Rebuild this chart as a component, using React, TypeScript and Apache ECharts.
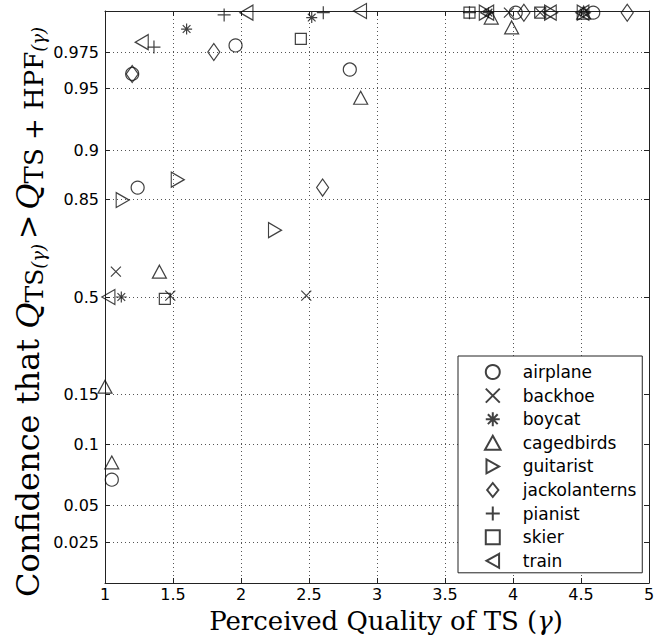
import React, { useEffect, useRef } from "react";
import * as echarts from "echarts";

// ---- data (x = perceived quality, p = confidence) ----
const seriesNames = ["airplane", "backhoe", "boycat", "cagedbirds", "guitarist", "jackolanterns", "pianist", "skier", "train"];

const airplaneX = [1.05, 1.2, 1.24, 1.96, 2.8, 4.02, 4.59];
const airplaneP = [0.071, 0.96, 0.862, 0.979, 0.963, 0.999, 0.999];
const backhoeX = [1.08, 1.48, 2.48, 3.97, 4.2];
const backhoeP = [0.591, 0.505, 0.505, 0.999, 0.999];
const boycatX = [1.12, 1.6, 2.52, 3.82, 4.52];
const boycatP = [0.5, 0.989, 0.996, 0.999, 0.999];
const cagedbirdsX = [1.0, 1.05, 1.4, 2.88, 3.84, 3.99, 4.52];
const cagedbirdsP = [0.178, 0.085, 0.591, 0.9425, 0.996, 0.99, 0.999];
const guitaristX = [1.13, 1.535, 2.25, 3.8, 4.28, 4.52];
const guitaristP = [0.848, 0.87, 0.74, 0.999, 0.999, 0.999];
const jackolanternsX = [1.2, 1.8, 2.6, 4.08, 4.84];
const jackolanternsP = [0.96, 0.975, 0.862, 0.999, 0.999];
const pianistX = [1.36, 1.876, 2.605, 3.68];
const pianistP = [0.978, 0.9976, 0.999, 0.999];
const skierX = [1.44, 2.44, 3.68, 4.2];
const skierP = [0.493, 0.983, 0.999, 0.999];
const trainX = [1.025, 1.27, 2.04, 2.875, 3.81, 4.27, 4.51];
const trainP = [0.5, 0.981, 0.999, 1.0, 0.999, 0.999, 0.999];

const xTicks = [1, 1.5, 2, 2.5, 3, 3.5, 4, 4.5, 5];
const yTickValues = [0.025, 0.05, 0.1, 0.15, 0.5, 0.85, 0.9, 0.95, 0.975];

// confidence-axis scale definition (probability -> axis units)
const scaleP = [0, 0.025, 0.05, 0.1, 0.15, 0.5, 0.85, 0.9, 0.95, 0.975, 1];
const scaleU = [0, 41, 77.5, 139, 188.5, 286, 383.5, 433, 494.5, 531, 572];

function toU(p: number): number {
  for (let i = 1; i < scaleP.length; i++) {
    if (p <= scaleP[i]) {
      const t = (p - scaleP[i - 1]) / (scaleP[i] - scaleP[i - 1]);
      return scaleU[i - 1] + t * (scaleU[i] - scaleU[i - 1]);
    }
  }
  return scaleU[scaleU.length - 1];
}

const seriesX = [airplaneX, backhoeX, boycatX, cagedbirdsX, guitaristX, jackolanternsX, pianistX, skierX, trainX];
const seriesP = [airplaneP, backhoeP, boycatP, cagedbirdsP, guitaristP, jackolanternsP, pianistP, skierP, trainP];

const symbols = [
  "circle",
  "path://M0,0L10,10M10,0L0,10",
  "path://M5,0L5,10M0,5L10,5M1.5,1.5L8.5,8.5M8.5,1.5L1.5,8.5",
  "path://M5,0L10,9L0,9Z",
  "path://M0,0L9,5L0,10Z",
  "path://M4,0L8,5L4,10L0,5Z",
  "path://M5,0L5,10M0,5L10,5",
  "path://M0,0L10,0L10,10L0,10Z",
  "path://M9,0L0,5L9,10Z",
];
const symbolSizes: any[] = [13, 10, 11, [14, 13], [13, 15], [12, 17], 13, 11, [13, 15]];

const INK = "#111";

export default function App() {
  const ref = useRef<HTMLDivElement>(null);
  useEffect(() => {
    if (!ref.current) return;
    const chart = echarts.init(ref.current, null, { renderer: "svg" });
    const yCustom = yTickValues.map(toU);
    const yFmt = (v: number) => {
      for (let i = 0; i < yTickValues.length; i++) {
        if (Math.abs(yCustom[i] - v) < 0.01) return String(yTickValues[i]);
      }
      return "";
    };
    const gridLine = { show: true, lineStyle: { color: "#555", type: [1, 3], width: 1 } };
    const serif = "DejaVu Serif";
    const option: any = {
      animation: false,
      backgroundColor: "#fff",
      grid: { left: 105, right: 5, top: 11, bottom: 54, outerBoundsMode: "none", containLabel: false },
      legend: {
        data: seriesNames,
        orient: "vertical",
        left: 458,
        top: 356,
        padding: [7, 6, 3, 26],
        itemGap: 5.6,
        itemWidth: 50,
        itemHeight: 14,
        backgroundColor: "#fff",
        borderColor: "#222",
        borderWidth: 1,
        borderRadius: 0,
        textStyle: { fontFamily: "DejaVu Sans", fontSize: 17, color: "#000", lineHeight: 18 },
        selectedMode: false,
      },
      xAxis: [
        {
          type: "value",
          min: 1,
          max: 5,
          interval: 0.5,
          position: "bottom",
          axisLine: { show: true, onZero: false, lineStyle: { color: "#222", width: 1 } },
          axisTick: { show: true, inside: true, length: 5, lineStyle: { color: "#222" } },
          axisLabel: {
            show: true,
            margin: 3,
            fontFamily: "DejaVu Sans",
            fontSize: 16,
            color: "#000",
            showMinLabel: true,
            showMaxLabel: true,
            formatter: (v: number) => (xTicks.indexOf(v) >= 0 ? String(v) : ""),
          },
          splitLine: gridLine,
          name: "{a|Perceived Quality of TS (}{g|γ}{a|)}",
          nameLocation: "middle",
          nameGap: 25,
          nameMoveOverlap: false,
          nameTextStyle: {
            padding: [0, 0, 0, 18],
            rich: {
              a: { fontFamily: serif, fontSize: 26, color: "#000" },
              g: { fontFamily: serif, fontSize: 26, fontStyle: "italic", color: "#000" },
            },
          },
        },
        {
          type: "value",
          min: 1,
          max: 5,
          interval: 0.5,
          position: "top",
          axisLine: { show: true, onZero: false, lineStyle: { color: "#222", width: 1 } },
          axisTick: { show: true, inside: true, length: 5, lineStyle: { color: "#222" } },
          axisLabel: { show: false },
          splitLine: { show: false },
        },
      ],
      yAxis: [
        {
          type: "value",
          min: 0,
          max: 572,
          position: "left",
          axisLine: { show: true, onZero: false, lineStyle: { color: "#222", width: 1 } },
          axisTick: { show: true, inside: true, length: 5, customValues: yCustom, lineStyle: { color: "#222" } },
          axisLabel: {
            show: true,
            margin: 6,
            customValues: yCustom,
            fontFamily: "DejaVu Sans",
            fontSize: 16,
            color: "#000",
            formatter: yFmt,
          },
          splitLine: gridLine,
          name: "{a|Confidence that }{q|Q}{s|TS}{t|(γ)}{g|>}{q|Q}{u|TS + HPF}{t|(γ)}",
          nameLocation: "middle",
          nameRotate: 90,
          nameGap: 58,
          nameMoveOverlap: false,
          nameTextStyle: {
            padding: [0, 30, 0, 0],
            rich: {
              a: { fontFamily: serif, fontSize: 32, lineHeight: 38, color: "#000" },
              g: { fontFamily: serif, fontSize: 29, lineHeight: 38, color: "#000", padding: [0, 5, 0, 5] },
              q: { fontFamily: serif, fontSize: 32, lineHeight: 38, fontStyle: "italic", color: "#000" },
              s: { fontFamily: serif, fontSize: 25, lineHeight: 14, verticalAlign: "bottom", color: "#000" },
              u: { fontFamily: serif, fontSize: 26, lineHeight: 14, verticalAlign: "bottom", color: "#000" },
              t: { fontFamily: serif, fontSize: 18, lineHeight: 14, verticalAlign: "bottom", fontStyle: "italic", color: "#000" },
            },
          },
        },
        {
          type: "value",
          min: 0,
          max: 572,
          position: "right",
          axisLine: { show: true, onZero: false, lineStyle: { color: "#222", width: 1 } },
          axisTick: { show: true, inside: true, length: 5, customValues: yCustom, lineStyle: { color: "#222" } },
          axisLabel: { show: false, customValues: yCustom },
          splitLine: { show: false },
        },
      ],
      series: seriesNames.map((name, k) => ({
        name,
        type: "scatter",
        xAxisIndex: 0,
        yAxisIndex: 0,
        symbol: symbols[k],
        symbolSize: symbolSizes[k],
        data: seriesX[k].map((x, i) => [x, toU(seriesP[k][i])]),
        itemStyle: { color: "transparent", borderColor: INK, borderWidth: 1.2 },
        emphasis: { disabled: true },
        z: 3,
      })),
    };
    chart.setOption(option);
    return () => chart.dispose();
  }, []);
  return (
    <div
      ref={ref}
      style={{ position: "fixed", left: 0, top: 0, width: 654, height: 637, background: "#fff" }}
    />
  );
}
